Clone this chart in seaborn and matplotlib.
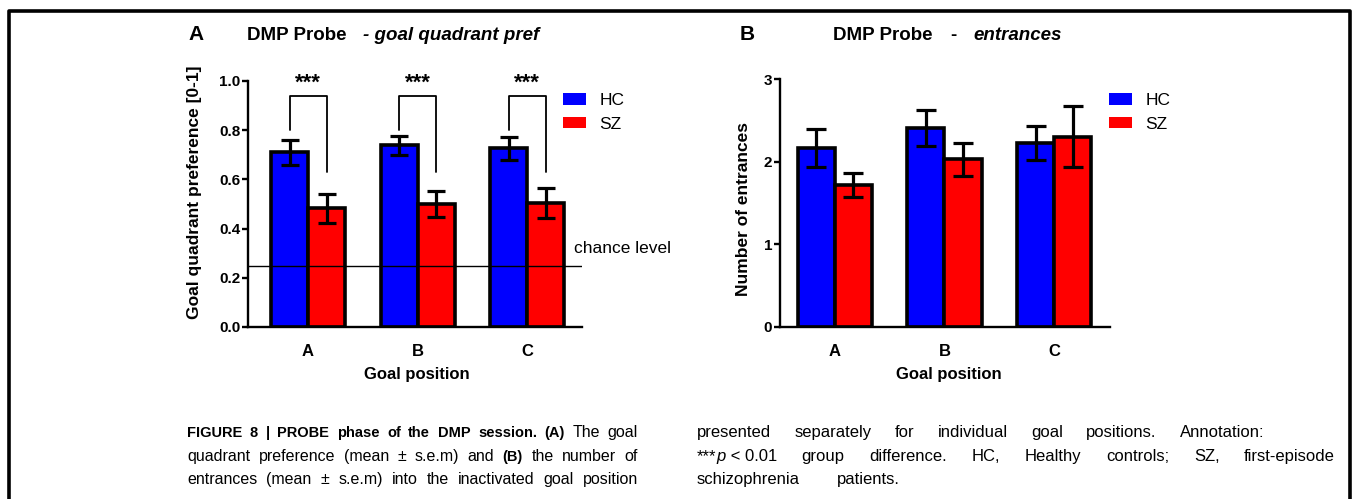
import numpy as np
import pandas as pd
import matplotlib
matplotlib.use('Agg')
import matplotlib.pyplot as plt
import seaborn as sns
from matplotlib.patches import Patch
from matplotlib.lines import Line2D

# ---------------- data ----------------
positions = ['A', 'B', 'C']
groups = ['HC', 'SZ']
pref_hc = [0.710, 0.738, 0.726]
pref_sz = [0.482, 0.500, 0.504]
pref_hc_sem = [0.052, 0.039, 0.046]
pref_sz_sem = [0.059, 0.051, 0.060]
ent_hc = [2.17, 2.41, 2.23]
ent_sz = [1.72, 2.03, 2.305]
ent_hc_sem = [0.23, 0.22, 0.21]
ent_sz_sem = [0.148, 0.20, 0.366]
chance_level = 0.25
sig_labels = ['***', '***', '***']
yticks_a = [0.0, 0.2, 0.4, 0.6, 0.8, 1.0]
ytick_labels_a = ['0.0', '0.2', '0.4', '0.6', '0.8', '1.0']
yticks_b = [0, 1, 2, 3]
ytick_labels_b = ['0', '1', '2', '3']
palette = {'HC': '#0000FF', 'SZ': '#FF0000'}

sns.set_theme(style='ticks')
plt.rcParams['font.family'] = ['Liberation Sans', 'DejaVu Sans']
plt.rcParams['text.color'] = 'black'
plt.rcParams['axes.labelcolor'] = 'black'
plt.rcParams['xtick.color'] = 'black'
plt.rcParams['ytick.color'] = 'black'

W, H = 1353, 499
fig = plt.figure(figsize=(W / 100, H / 100), dpi=100)
fig.patch.set_facecolor('white')


def rect(x0, x1, yb, yt):
    return [x0 / W, 1 - yb / H, (x1 - x0) / W, (yb - yt) / H]


axA = fig.add_axes(rect(248, 582, 327, 81))
axB = fig.add_axes(rect(780, 1110, 327, 79.3))


def panel(ax, hc, sz, hc_sem, sz_sem, ylim, yticks, ylabels, xlim, capsize):
    df = pd.DataFrame({
        'position': positions * 2,
        'group': ['HC'] * 3 + ['SZ'] * 3,
        'value': list(hc) + list(sz),
    })
    sems = {'HC': hc_sem, 'SZ': sz_sem}
    sns.barplot(data=df, x='position', y='value', hue='group', hue_order=groups,
                palette=palette, saturation=1, width=0.676, gap=0,
                errorbar=None, edgecolor='black', linewidth=2.6, ax=ax,
                legend=False, zorder=2)
    centers = {}
    for g, cont in zip(groups, ax.containers):
        xs = [b.get_x() + b.get_width() / 2 for b in cont]
        ys = [b.get_height() for b in cont]
        centers[g] = xs
        ax.errorbar(xs, ys, yerr=sems[g], fmt='none', ecolor='black',
                    elinewidth=2.3, capsize=capsize, capthick=2.3, zorder=4)
    ax.set_ylim(*ylim)
    ax.set_xlim(*xlim)
    ax.set_yticks(yticks)
    ax.set_yticklabels(ylabels, fontsize=11, fontweight='bold')
    ax.set_xticks(range(len(positions)))
    ax.set_xticklabels(positions, fontsize=12, fontweight='bold')
    ax.set_xlabel('')
    ax.set_ylabel('')
    sns.despine(ax=ax)
    for s in ['left', 'bottom']:
        ax.spines[s].set_linewidth(1.7)
        ax.spines[s].set_color('black')
    ax.tick_params(axis='y', length=4, width=1.7, pad=1.5, colors='black')
    ax.tick_params(axis='x', length=0, pad=12, colors='black')
    ax.set_facecolor('white')
    return centers


cA = panel(axA, pref_hc, pref_sz, pref_hc_sem, pref_sz_sem, (0, 1.0),
           yticks_a, ytick_labels_a, (-0.548, 2.50), 6.8)
cB = panel(axB, ent_hc, ent_sz, ent_hc_sem, ent_sz_sem, (0, 3.0),
           yticks_b, ytick_labels_b, (-0.50, 2.51), 7.5)

# chance level
axA.axhline(chance_level, color='black', lw=1.0, zorder=3)
fig.text(574 / W, 1 - 249 / H, 'chance level', fontsize=12.5, ha='left', va='center')

# significance brackets
for i, lab in enumerate(sig_labels):
    xh, xs = cA['HC'][i], cA['SZ'][i]
    axA.plot([xh, xh, xs, xs], [0.80, 0.939, 0.939, 0.63], color='black',
             lw=1.3, clip_on=False, zorder=5)
    axA.text((xh + xs) / 2, 0.99, lab, ha='center', va='center',
             fontsize=16, fontweight='bold', clip_on=False)

# axis labels
fig.text(195 / W, 1 - 192 / H, 'Goal quadrant preference [0-1]', rotation=90,
         ha='center', va='center', fontsize=12.5, fontweight='bold')
fig.text(743 / W, 1 - 209 / H, 'Number of entrances', rotation=90,
         ha='center', va='center', fontsize=12.5, fontweight='bold')
fig.text(417 / W, 1 - 374 / H, 'Goal position', ha='center', va='center',
         fontsize=12, fontweight='bold')
fig.text(949 / W, 1 - 374 / H, 'Goal position', ha='center', va='center',
         fontsize=12, fontweight='bold')

# titles
ty = 1 - 35 / H
fig.text(188 / W, ty, 'A', fontsize=15, fontweight='bold', ha='left', va='center')
fig.text(247 / W, ty, 'DMP Probe', fontsize=13.5, fontweight='bold', ha='left', va='center')
fig.text(363 / W, ty, '- goal quadrant pref', fontsize=13.5, fontweight='bold',
         fontstyle='italic', ha='left', va='center')
fig.text(740 / W, ty, 'B', fontsize=15, fontweight='bold', ha='left', va='center')
fig.text(833 / W, ty, 'DMP Probe', fontsize=13.5, fontweight='bold', ha='left', va='center')
fig.text(950 / W, ty, '-', fontsize=13.5, fontweight='bold', ha='left', va='center')
fig.text(973 / W, ty, 'entrances', fontsize=13.5, fontweight='bold',
         fontstyle='italic', ha='left', va='center')

# legends
handles = [Patch(facecolor=palette[g], edgecolor='none') for g in groups]
for xa in (563, 1109):
    fig.legend(handles, groups, loc='upper left',
               bbox_to_anchor=(xa / W, 1 - 93 / H), frameon=False,
               borderpad=0, borderaxespad=0, handlelength=1.3,
               handleheight=0.65, handletextpad=0.8, labelspacing=0.5,
               fontsize=12.5)

# frame
lw = 2.6
fig.add_artist(Line2D([9 / W, 9 / W, 1350 / W, 1350 / W], [0, 1 - 11 / H, 1 - 11 / H, 0],
                      transform=fig.transFigure, color='black', lw=lw))

# caption (justified words)
renderer = fig.canvas.get_renderer()


def make(t, w='normal', s='normal'):
    return (t, w, s)


def draw_line(words, x0, x1, yb, size=12.0, bsize=10.5, min_gap=3.0):
    while True:
        arts = []
        widths = []
        for word in words:
            wa = []
            ww = 0
            for (t, wt, st) in word:
                fs = bsize if wt == 'bold' else size
                a = fig.text(0, 1 - yb / H, t, fontsize=fs, fontweight=wt,
                             fontstyle=st, ha='left', va='baseline')
                w = a.get_window_extent(renderer).width
                wa.append((a, w))
                ww += w
            arts.append(wa)
            widths.append(ww)
        gap = (x1 - x0 - sum(widths)) / max(len(words) - 1, 1)
        if gap >= min_gap or size < 9:
            break
        for wa in arts:
            for a, _ in wa:
                a.remove()
        size -= 0.25
        bsize -= 0.25
    x = x0
    for wa, ww in zip(arts, widths):
        xx = x
        for a, w in wa:
            a.set_x(xx / W)
            xx += w
        x += ww + gap


def words_of(text, w='normal', s='normal'):
    return [[make(t, w, s)] for t in text.split()]


B = 'bold'
l1 = words_of('FIGURE 8 | PROBE phase of the DMP session.', B) + words_of('(A)', B) + words_of('The goal')
l2 = words_of('quadrant preference (mean ± s.e.m) and') + words_of('(B)', B) + words_of('the number of')
l3 = words_of('entrances (mean ± s.e.m) into the inactivated goal position')
r1 = words_of('presented separately for individual goal positions. Annotation:')
r2 = [[make('***'), make('p', 'normal', 'italic'), make(' < 0.01')]] + words_of('group difference. HC, Healthy controls; SZ, first-episode')
r3 = words_of('schizophrenia patients.')

draw_line(l1, 187, 638, 437, size=11.5)
draw_line(l2, 187, 638, 461, size=11.5)
draw_line(l3, 187, 638, 484, size=11.5)
draw_line(r1, 697, 1264, 437)
draw_line(r2, 697, 1335, 461)
draw_line(r3, 697, 900, 484)

fig.savefig('out.png', dpi=100, facecolor='white')
